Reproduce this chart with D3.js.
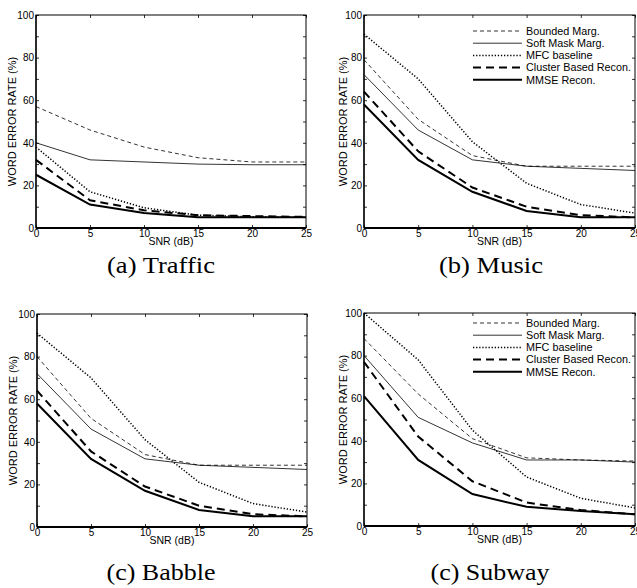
<!DOCTYPE html>
<html>
<head>
<meta charset="utf-8">
<script src="https://cdn.jsdelivr.net/npm/d3@7"></script>
<style>
  html, body { margin: 0; padding: 0; background: #fff; }
  svg { display: block; }
  .tick text, .lbl, .leg { font-family: "Liberation Sans", Arial, Helvetica, sans-serif; fill: #000; }
  .cap { font-family: "Liberation Serif", "Times New Roman", serif; fill: #000; }
</style>
</head>
<body>
<svg id="chart" width="637" height="588"></svg>
<script>
// SNR values along x
const snr = [0, 5, 10, 15, 20, 25];

// word error rate (%) per panel and series
const trafficBounded = [57, 46, 38, 33, 31, 31];
const trafficSoft    = [40, 32, 31, 30, 29.7, 29.7];
const trafficMfc     = [38, 17, 9.5, 6, 5.3, 5];
const trafficCluster = [32, 13, 8.3, 6, 5.6, 5.2];
const trafficMmse    = [25, 11, 7, 5, 5, 5];

const musicBounded = [79, 51, 34, 29, 29, 29];
const musicSoft    = [72, 46, 32, 29, 28, 27];
const musicMfc     = [91, 70, 40.5, 21, 11, 7];
const musicCluster = [64, 36, 19, 10, 6, 5];
const musicMmse    = [58, 32, 17, 8, 5, 5];

const babbleBounded = [80, 51, 34, 29, 29, 29];
const babbleSoft    = [72, 46, 32, 29, 28, 27];
const babbleMfc     = [91, 70, 41, 21, 11, 7];
const babbleCluster = [64, 35.5, 19, 10, 6, 5];
const babbleMmse    = [58, 32, 17, 8, 5, 5];

const subwayBounded = [88, 62, 41, 32, 31, 30.5];
const subwaySoft    = [80, 51, 39, 31, 31, 30];
const subwayMfc     = [100, 78, 45, 23, 13, 8.5];
const subwayCluster = [77, 42, 21, 11, 7.5, 5.5];
const subwayMmse    = [61, 31, 15, 9, 7, 5.5];

const seriesNames = ['Bounded Marg.', 'Soft Mask Marg.', 'MFC baseline', 'Cluster Based Recon.', 'MMSE Recon.'];
const captions = ['(a) Traffic', '(b) Music', '(c) Babble', '(c) Subway'];
const xTicks = [0, 5, 10, 15, 20, 25];
const yTicks = [0, 10, 20, 30, 40, 50, 60, 70, 80, 90, 100];

// line styles, same order as seriesNames
const styles = [
  { w: 0.8, dash: '4,3' },
  { w: 0.8, dash: null },
  { w: 1.5, dash: '1.3,1.8' },
  { w: 2,   dash: '8,5' },
  { w: 2,   dash: null }
];

const panels = [
  { data: [trafficBounded, trafficSoft, trafficMfc, trafficCluster, trafficMmse],
    box: { l: 36, r: 306, t: 15, b: 228 }, cap: { x: 161, y: 273, w: 108 }, legend: null, ylabX: 12 },
  { data: [musicBounded, musicSoft, musicMfc, musicCluster, musicMmse],
    box: { l: 364, r: 635, t: 15, b: 228 }, cap: { x: 491, y: 273, w: 104 }, legend: { x: 473, y: 31 }, ylabX: 343 },
  { data: [babbleBounded, babbleSoft, babbleMfc, babbleCluster, babbleMmse],
    box: { l: 37, r: 307, t: 314, b: 527 }, cap: { x: 161, y: 580, w: 109 }, legend: null, ylabX: 13 },
  { data: [subwayBounded, subwaySoft, subwayMfc, subwayCluster, subwayMmse],
    box: { l: 364, r: 635, t: 313, b: 526 }, cap: { x: 490, y: 580, w: 119 }, legend: { x: 473, y: 323 }, ylabX: 343 }
];

const svg = d3.select('#chart');

panels.forEach((p, pi) => {
  const x = d3.scaleLinear().domain([0, 25]).range([p.box.l, p.box.r]);
  const y = d3.scaleLinear().domain([0, 100]).range([p.box.b, p.box.t]);
  const g = svg.append('g');

  // axes, ticks pointing inward
  g.append('g')
    .attr('transform', `translate(0, ${p.box.b})`)
    .call(d3.axisBottom(x).tickValues(xTicks).tickSize(-3).tickPadding(2).tickFormat(d3.format('d')));
  g.append('g')
    .attr('transform', `translate(${p.box.l}, 0)`)
    .call(d3.axisLeft(y).tickValues(yTicks).tickSize(-3).tickPadding(2)
      .tickFormat(d => d % 20 === 0 ? d : ''));
  g.append('g')
    .attr('transform', `translate(0, ${p.box.t})`)
    .call(d3.axisTop(x).tickValues(xTicks).tickSize(-3).tickFormat(''));
  g.append('g')
    .attr('transform', `translate(${p.box.r}, 0)`)
    .call(d3.axisRight(y).tickValues(yTicks).tickSize(-3).tickFormat(''));

  g.selectAll('.domain').remove();
  g.selectAll('.tick line').attr('stroke', '#000').attr('stroke-width', 0.8);
  g.selectAll('.tick text').style('font-size', '10px');

  // frame
  g.append('rect')
    .attr('x', p.box.l).attr('y', p.box.t)
    .attr('width', p.box.r - p.box.l).attr('height', p.box.b - p.box.t)
    .attr('fill', 'none').attr('stroke', '#000').attr('stroke-width', 1);
  g.append('line')
    .attr('x1', p.box.l).attr('x2', p.box.r)
    .attr('y1', p.box.b).attr('y2', p.box.b)
    .attr('stroke', '#000').attr('stroke-width', 2);
  g.append('line')
    .attr('x1', p.box.l).attr('x2', p.box.l)
    .attr('y1', p.box.t).attr('y2', p.box.b)
    .attr('stroke', '#000').attr('stroke-width', 1.3);

  // series
  const line = d3.line().x((d, i) => x(snr[i])).y(d => y(d));
  p.data.forEach((vals, si) => {
    g.append('path')
      .datum(vals)
      .attr('d', line)
      .attr('fill', 'none')
      .attr('stroke', '#000')
      .attr('stroke-width', styles[si].w)
      .attr('stroke-dasharray', styles[si].dash);
  });

  // labels
  g.append('text').attr('class', 'lbl')
    .attr('x', (p.box.l + p.box.r) / 2).attr('y', p.box.b + 17)
    .attr('text-anchor', 'middle').style('font-size', '10.5px')
    .text('SNR (dB)');
  g.append('text').attr('class', 'lbl')
    .attr('transform', `translate(${p.ylabX + 4}, ${(p.box.t + p.box.b) / 2}) rotate(-90)`)
    .attr('text-anchor', 'middle').style('font-size', '11px')
    .text('WORD ERROR RATE (%)');

  g.append('text').attr('class', 'cap')
    .attr('x', p.cap.x).attr('y', p.cap.y)
    .attr('text-anchor', 'middle').style('font-size', '23px')
    .attr('textLength', p.cap.w).attr('lengthAdjust', 'spacingAndGlyphs')
    .text(captions[pi]);

  // legend
  if (p.legend) {
    seriesNames.forEach((name, si) => {
      const ly = p.legend.y + si * 12.2;
      g.append('line')
        .attr('x1', p.legend.x).attr('x2', p.legend.x + 49)
        .attr('y1', ly).attr('y2', ly)
        .attr('stroke', '#000')
        .attr('stroke-width', styles[si].w)
        .attr('stroke-dasharray', styles[si].dash);
      g.append('text').attr('class', 'leg')
        .attr('x', p.legend.x + 53).attr('y', ly)
        .attr('dy', '0.35em').style('font-size', '10.8px')
        .text(name);
    });
  }
});
</script>
</body>
</html>
